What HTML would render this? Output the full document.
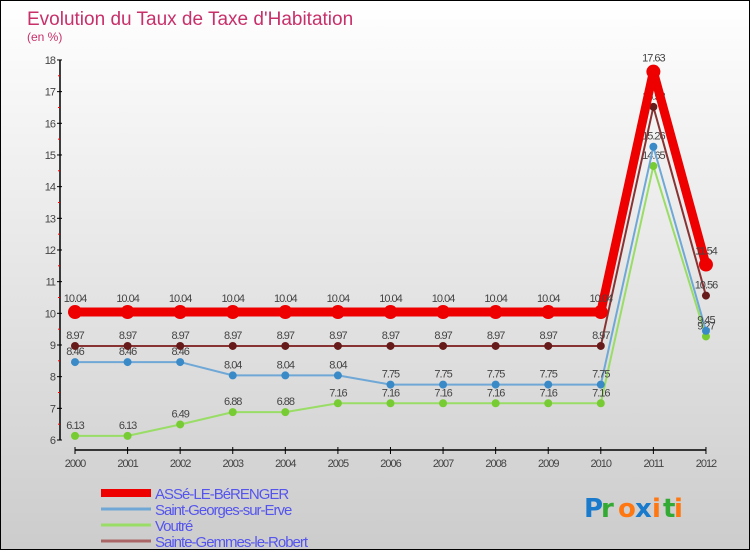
<!DOCTYPE html>
<html><head><meta charset="utf-8"><style>
body{margin:0;}
#c{position:relative;width:748px;height:548px;border:1px solid #000;background:linear-gradient(#fff,#ccc);font-family:"Liberation Sans",sans-serif;overflow:hidden}
</style></head><body>
<div id="c">
<svg id="s" width="748" height="548"></svg>
</div>
<script>
const years=[2000,2001,2002,2003,2004,2005,2006,2007,2008,2009,2010,2011,2012];
const yTicks=[6,7,8,9,10,11,12,13,14,15,16,17,18];
const seriesNames=["ASSé-LE-BéRENGER","Saint-Georges-sur-Erve","Voutré","Sainte-Gemmes-le-Robert"];
const asse=[10.04,10.04,10.04,10.04,10.04,10.04,10.04,10.04,10.04,10.04,10.04,17.63,11.54];
const stGeorges=[8.46,8.46,8.46,8.04,8.04,8.04,7.75,7.75,7.75,7.75,7.75,15.26,9.45];
const voutre=[6.13,6.13,6.49,6.88,6.88,7.16,7.16,7.16,7.16,7.16,7.16,14.65,9.27];
const stGemmes=[8.97,8.97,8.97,8.97,8.97,8.97,8.97,8.97,8.97,8.97,8.97,16.52,10.56];
const NS="http://www.w3.org/2000/svg",s=document.getElementById('s');
const X=i=>74+i*52.58, Y=v=>439-(v-6)*31.67;
function el(t,a,p){const e=document.createElementNS(NS,t);for(const k in a)e.setAttribute(k,a[k]);(p||s).appendChild(e);return e;}
function tx(x,y,str,a){const e=el('text',Object.assign({x:x,y:y},a));e.textContent=str;return e;}
let t=tx(26,24,"Evolution du Taux de Taxe d'Habitation",{fill:"#c8306a","font-size":19});

t=tx(26,40,"(en %)",{fill:"#c8306a","font-size":12});

let ax=el('line',{x1:59,y1:Y(18),x2:59,y2:Y(6),stroke:"#000","stroke-width":1.5});

yTicks.forEach(v=>{el('line',{x1:56,x2:61,y1:Y(v),y2:Y(v),stroke:"#000"});
 if(v<18)el('line',{x1:57,x2:59,y1:Y(v+0.5),y2:Y(v+0.5),stroke:"#f00"});
 const l=tx(54,Y(v)+4,String(v),{fill:"#444","font-size":11,"text-anchor":"end","letter-spacing":"-1"});
 });
ax=el('line',{x1:74,y1:449,x2:X(12),y2:449,stroke:"#000","stroke-width":1.5});

years.forEach((yr,i)=>{el('line',{x1:X(i),x2:X(i),y1:446,y2:453,stroke:"#000"});
 const l=tx(X(i),466,String(yr),{fill:"#444","font-size":11,"text-anchor":"middle","letter-spacing":"-1"});
 });
function series(d,col,w,r,dot,name,lblOff){
 const g=el('g',{});
 el('polyline',{points:d.map((v,i)=>X(i)+","+Y(v)).join(" "),fill:"none",stroke:col,"stroke-width":w,"stroke-linejoin":"round"},g);
 d.forEach((v,i)=>{const c=el('circle',{cx:X(i),cy:Y(v),r:r,fill:dot},g);
  
  tx(X(i),Y(v)-lblOff,String(v),{fill:"#444","font-size":11,"text-anchor":"middle","letter-spacing":"-1"},g);});
}
series(voutre,"#99dd66",2,4,"#77cc33","series-voutre",7);
series(stGeorges,"#6fa8d6",2,4,"#3a8ac8","series-saint-georges",7);
series(stGemmes,"#883333",2,4,"#661a1a","series-sainte-gemmes",7);
series(asse,"#ee0000",9,7,"#ee0000","series-asse",10);
const lg=[["#ee0000",8],["#6fa8d6",3],["#99dd66",3],["#aa6666",3]];
lg.forEach((c,i)=>{const g=el('g',{});
 const y=492+i*16;el('line',{x1:100,x2:150,y1:y,y2:y,stroke:c[0],"stroke-width":c[1]},g);
 tx(154,y+6,seriesNames[i],{fill:"#5555ee","font-size":15,"letter-spacing":"-1"},g);});
const lo=el('g',{});
const pl=[["P","#1a7acc"],["r","#33aa33"],["o","#ff7711"],["x","#1a7acc"],["i","#ff7711"],["t","#33aa33"],["i","#ff7711"]];
let px=583;pl.forEach(p=>{tx(px,516,p[0],{fill:p[1],"font-size":26,"font-weight":"bold","font-family":"DejaVu Sans"},lo);px+=p[0]=="i"||p[0]=="t"?11:17;});
</script>
</body></html>
